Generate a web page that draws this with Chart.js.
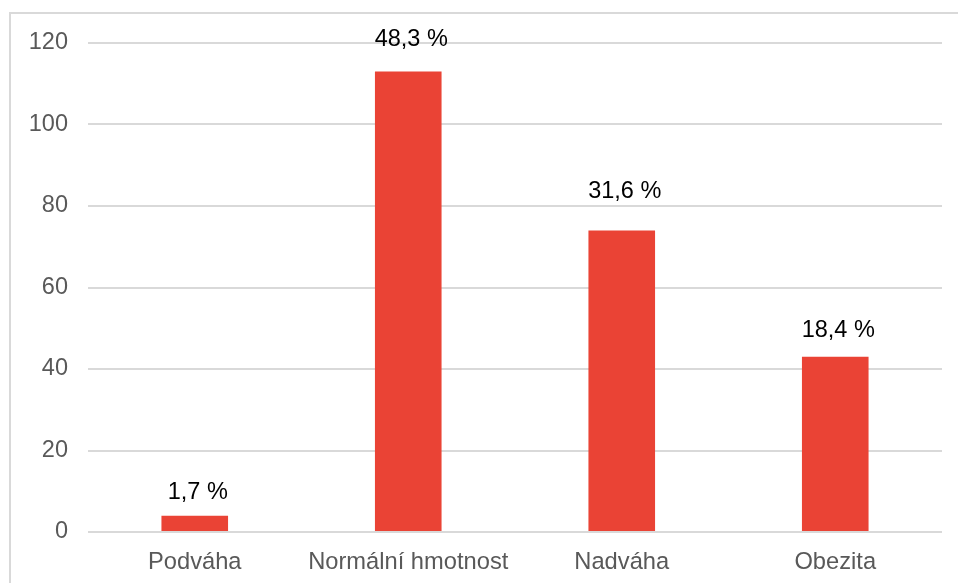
<!DOCTYPE html>
<html>
<head>
<meta charset="utf-8">
<script src="https://cdn.jsdelivr.net/npm/chart.js@4/dist/chart.umd.min.js"></script>
<style>
  html, body { margin: 0; padding: 0; background: #fff; }
  #wrap { position: relative; width: 958px; height: 583px; overflow: hidden; }
  #frame { position: absolute; left: 9px; top: 12px; right: 0; bottom: 0;
           border-top: 2px solid #d9d9d9; border-left: 2px solid #d9d9d9; }
  canvas { position: absolute; left: 0; top: 0; }
</style>
</head>
<body>
<div id="wrap">
  <div id="frame"></div>
  <canvas id="bmi" width="958" height="583"></canvas>
</div>
<script>
// categories and values
var categories = ["Podváha", "Normální hmotnost", "Nadváha", "Obezita"];
var counts = [4, 113, 74, 43];
var percentLabels = ["1,7 %", "48,3 %", "31,6 %", "18,4 %"];
var yTicks = [0, 20, 40, 60, 80, 100, 120];

// the labels sit at slightly different heights above their bars (px)
var labelLift = [17, 26, 32, 20];

(function() {
    var font = "'Liberation Sans', Arial, sans-serif";

    // draws the percentage text above each bar
    var barLabels = {
        id: 'barLabels',
        afterDatasetsDraw: function(chart) {
            var ctx = chart.ctx;
            var meta = chart.getDatasetMeta(0);
            ctx.save();
            ctx.font = "23.5px " + font;
            ctx.fillStyle = "#000";
            ctx.textAlign = "center";
            ctx.textBaseline = "alphabetic";
            meta.data.forEach(function(bar, i) {
                ctx.fillText(percentLabels[i], bar.x + 3, bar.y - labelLift[i]);
            });
            ctx.restore();
        }
    };

    var ctx = document.getElementById("bmi").getContext('2d');
    new Chart(ctx, {
        type: 'bar',
        data: {
            labels: categories,
            datasets: [{
                data: counts,
                backgroundColor: "#EA4335",
                borderWidth: 0,
                categoryPercentage: 1,
                barPercentage: 0.312
            }]
        },
        options: {
            responsive: false,
            animation: false,
            layout: { padding: { left: 0, right: 16, top: 43, bottom: 0 } },
            plugins: {
                legend: { display: false },
                tooltip: { enabled: false }
            },
            scales: {
                x: {
                    grid: { display: false },
                    border: { display: false },
                    ticks: {
                        color: "#595959",
                        font: { family: font, size: 23.7 },
                        padding: 8,
                        maxRotation: 0
                    },
                    afterFit: function(scale) { scale.height = 51; }
                },
                y: {
                    min: 0,
                    max: 120,
                    afterBuildTicks: function(scale) {
                        scale.ticks = yTicks.map(function(v) { return { value: v }; });
                    },
                    grid: { color: "#d9d9d9", lineWidth: 2, drawTicks: false },
                    border: { display: false },
                    ticks: {
                        color: "#595959",
                        font: { family: font, size: 23.5 },
                        padding: 20
                    },
                    afterFit: function(scale) { scale.width = 88; }
                }
            }
        },
        plugins: [barLabels]
    });
}());
</script>
</body>
</html>
